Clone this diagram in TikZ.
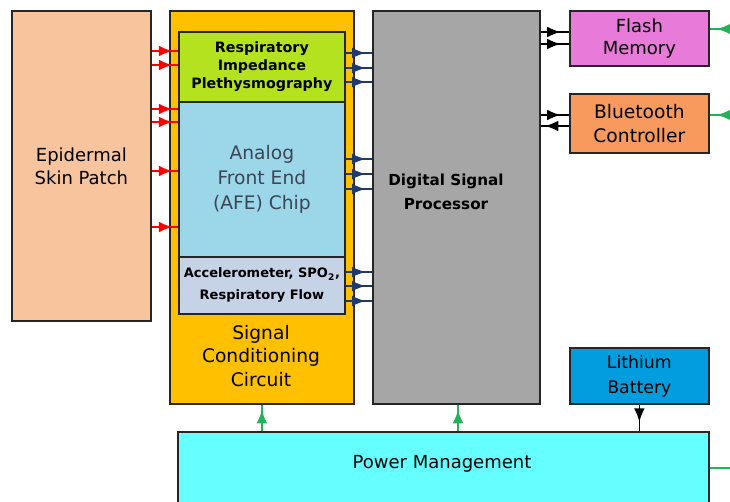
\documentclass[tikz,border=0pt]{standalone}
\usepackage{fontspec}
\setmainfont{DejaVu Sans}
\usetikzlibrary{arrows.meta,decorations.markings}

\definecolor{patchfill}{HTML}{F8C49E}
\definecolor{sccfill}{HTML}{FFC000}
\definecolor{ripfill}{HTML}{B4E21F}
\definecolor{afefill}{HTML}{9CD6E9}
\definecolor{accfill}{HTML}{C6D3E6}
\definecolor{dspfill}{HTML}{A6A6A6}
\definecolor{flashfill}{HTML}{E87ADA}
\definecolor{btfill}{HTML}{F89A5E}
\definecolor{battfill}{HTML}{019DDF}
\definecolor{pmfill}{HTML}{66FFFF}
\definecolor{navy}{HTML}{1F3A6E}
\definecolor{powergreen}{HTML}{22B35A}
\definecolor{afetext}{HTML}{3A4656}

\tikzset{
  blok/.style={draw=black!85, line width=1.3pt, inner sep=0pt, anchor=north west, align=center},
  midarrow/.style={postaction={decorate}, decoration={markings,
      mark=at position #1 with {\arrow{Latex[length=10pt,width=8pt]}}}},
  redline/.style={red, line width=1.1pt, midarrow=0.78},
  navyline/.style={navy, line width=1.1pt, midarrow=0.75},
  blackline/.style={black, line width=1.1pt, midarrow=#1},
  greenline/.style={powergreen, line width=1.1pt, midarrow=#1},
}

\begin{document}
\begin{tikzpicture}[x=0.75pt, y=-0.75pt]
        \path[use as bounding box, fill=white] (0,0) rectangle (730,502);
        \clip (0,0) rectangle (730,502);

        % Skin patch
        \node[blok, fill=patchfill, minimum width=104.25pt, minimum height=232.5pt,
              font=\fontsize{13.5}{17.25}\selectfont] (patch) at (11,10) {Epidermal\\Skin Patch};

        % Signal conditioning circuit
        \node[blok, fill=sccfill, minimum width=138pt, minimum height=294.75pt] (scc) at (169,10) {};
        \node[blok, fill=ripfill, minimum width=124.5pt, minimum height=52.5pt,
              font=\bfseries\fontsize{10.7}{13.5}\selectfont] (rip) at (178,31) {Respiratory\\Impedance\\Plethysmography};
        \node[blok, fill=afefill, minimum width=124.5pt, minimum height=116.25pt, text=afetext,
              font=\fontsize{14}{18.75}\selectfont] (afe) at (178,101) {Analog\\Front End\\(AFE) Chip};
        \node[blok, fill=accfill, minimum width=124.5pt, minimum height=42.75pt,
              font=\bfseries\fontsize{9.75}{16.5}\selectfont] (acc) at (178,256) {Accelerometer, SPO\textsubscript{2},\\Respiratory Flow};
        \node[align=center, font=\fontsize{14}{17.6}\selectfont] (scclab) at (261,356) {Signal\\Conditioning\\Circuit};

        % Digital signal processor
        \node[blok, fill=dspfill, minimum width=125.25pt, minimum height=294.75pt] (dsp) at (372,10) {};
        \node[align=center, font=\bfseries\fontsize{11.4}{17.5}\selectfont] (dsplab) at (446,192) {Digital Signal\\Processor};

        % Memory, radio, battery, power
        \node[blok, fill=flashfill, minimum width=104.25pt, minimum height=41.25pt,
              font=\fontsize{13.5}{16.5}\selectfont] (flash) at (569,10) {Flash\\Memory};
        \node[blok, fill=btfill, minimum width=104.25pt, minimum height=44.25pt,
              font=\fontsize{14}{18}\selectfont] (bt) at (569,93) {Bluetooth\\Controller};
        \node[blok, fill=battfill, minimum width=104.25pt, minimum height=42pt,
              font=\fontsize{13}{18.75}\selectfont] (batt) at (569,347) {Lithium\\Battery};
        \node[blok, fill=pmfill, minimum width=398.25pt, minimum height=63pt] (pm) at (177,431) {};
        \node[font=\fontsize{13.5}{16}\selectfont] (pmlab) at (442,464) {Power Management};

        % Patch to conditioning
        \foreach \y in {51,65}
            \draw[redline] (patch.east |- 0,\y) -- (rip.west |- 0,\y);
        \foreach \y in {109,122,171,227}
            \draw[redline] (patch.east |- 0,\y) -- (afe.west |- 0,\y);

        % Conditioning to DSP
        \foreach \y in {53,68,82}
            \draw[navyline] (rip.east |- 0,\y) -- (dsp.west |- 0,\y);
        \foreach \y in {159,174,189}
            \draw[navyline] (afe.east |- 0,\y) -- (dsp.west |- 0,\y);
        \foreach \y in {272,286,301}
            \draw[navyline] (acc.east |- 0,\y) -- (dsp.west |- 0,\y);

        % DSP to memory and radio
        \foreach \y in {32,44}
            \draw[blackline=0.7] (dsp.east |- 0,\y) -- (flash.west |- 0,\y);
        \draw[blackline=0.7] (dsp.east |- 0,115) -- (bt.west |- 0,115);
        \draw[blackline=0.85] (bt.west |- 0,126) -- (dsp.east |- 0,126);

        % Battery to power
        \draw[blackline=0.65] (batt.south) -- (batt.south |- pm.north);

        % Power lines
        \coordinate (flashin) at (730,29);
        \coordinate (btin) at (730,115);
        \coordinate (pmout) at (730,468);
        \draw[greenline=0.65] (flashin) -- (flashin -| flash.east);
        \draw[greenline=0.65] (btin) -- (btin -| bt.east);
        \draw[powergreen, line width=1.1pt] (pmout -| pm.east) -- (pmout);
        \draw[greenline=0.8] (scc.south |- pm.north) -- (scc.south);
        \draw[greenline=0.8] (458,431) -- (dsp.south -| 458,0);
\end{tikzpicture}
\end{document}
